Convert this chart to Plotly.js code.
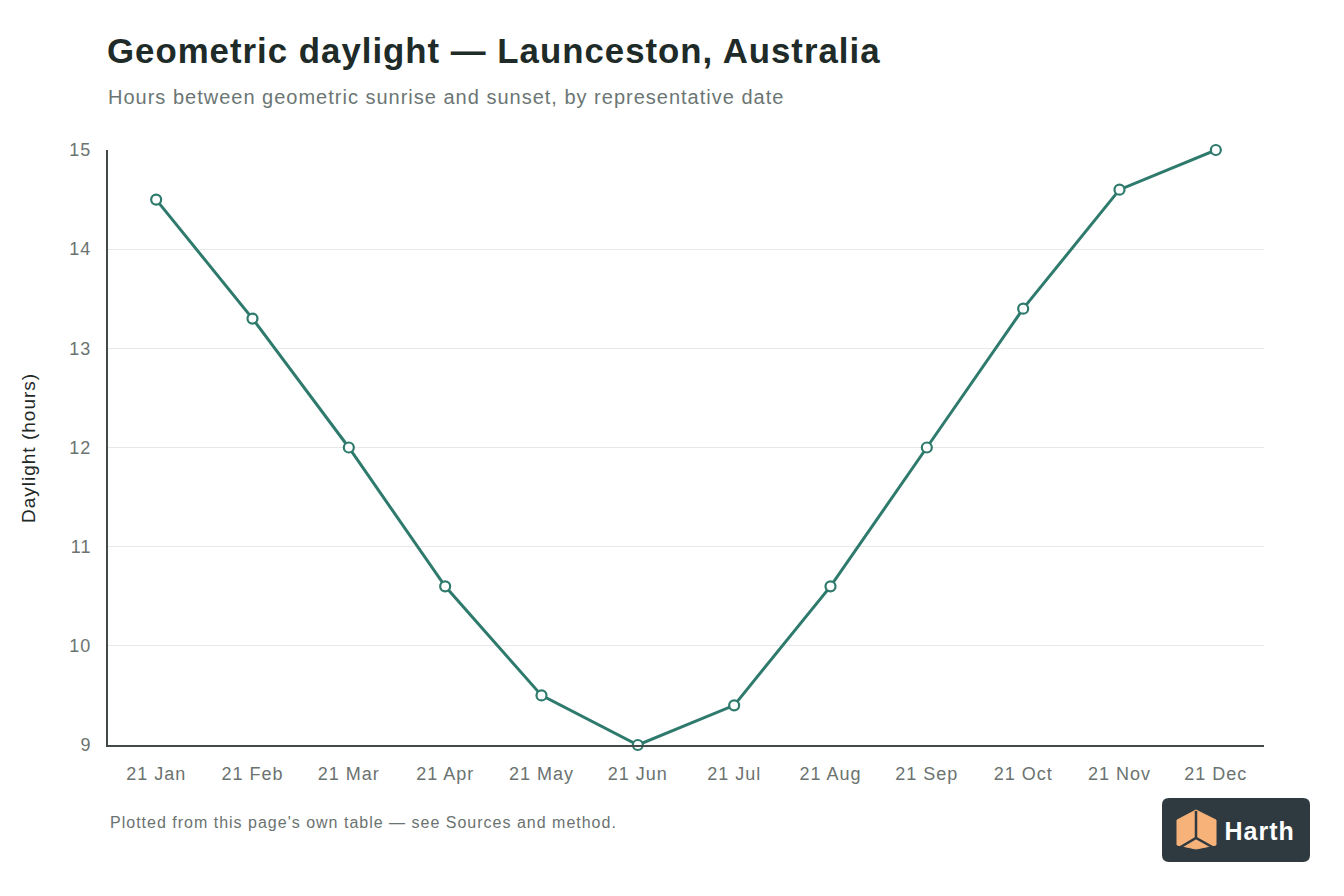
<!DOCTYPE html>
<html>
<head>
<meta charset="utf-8">
<script src="https://cdn.plot.ly/plotly-3.0.1.min.js"></script>
<style>
  html, body { margin: 0; padding: 0; background: #fff; }
  #chart { width: 1344px; height: 896px; }
  /* the reference type is set a little looser than Liberation Sans */
  #chart svg text { letter-spacing: 1px; }
</style>
</head>
<body>
<div id="chart"></div>
<script>
// representative dates and daylight hours
var dates = ['21 Jan', '21 Feb', '21 Mar', '21 Apr', '21 May', '21 Jun',
             '21 Jul', '21 Aug', '21 Sep', '21 Oct', '21 Nov', '21 Dec'];
var hours = [14.5, 13.3, 12.0, 10.6, 9.5, 9.0, 9.4, 10.6, 12.0, 13.4, 14.6, 15.0];
var yTicks = [9, 10, 11, 12, 13, 14, 15];

var FONT = '"Liberation Sans", Arial, Helvetica, sans-serif';
var TEAL = '#2e7a6c';

// plot area in pixels, used to place the decorations
var L = 108, R = 1264, T = 150, B = 745;
function px(x) { return (x - L) / (R - L); }
function py(y) { return (B - y) / (B - T); }

function roundRect(x0, y0, x1, y1, r) {
  return 'M' + px(x0 + r) + ',' + py(y0) +
    ' L' + px(x1 - r) + ',' + py(y0) +
    ' Q' + px(x1) + ',' + py(y0) + ' ' + px(x1) + ',' + py(y0 + r) +
    ' L' + px(x1) + ',' + py(y1 - r) +
    ' Q' + px(x1) + ',' + py(y1) + ' ' + px(x1 - r) + ',' + py(y1) +
    ' L' + px(x0 + r) + ',' + py(y1) +
    ' Q' + px(x0) + ',' + py(y1) + ' ' + px(x0) + ',' + py(y1 - r) +
    ' L' + px(x0) + ',' + py(y0 + r) +
    ' Q' + px(x0) + ',' + py(y0) + ' ' + px(x0 + r) + ',' + py(y0) + ' Z';
}
function poly(pts, close) {
  return pts.map(function (p, i) {
    return (i ? 'L' : 'M') + px(p[0]) + ',' + py(p[1]);
  }).join(' ') + (close ? ' Z' : '');
}

var trace = {
  x: dates,
  y: hours,
  type: 'scatter',
  mode: 'lines+markers',
  line: { color: TEAL, width: 3 },
  marker: { size: 10, color: '#ffffff', line: { color: TEAL, width: 2.2 } },
  cliponaxis: false,
  hoverinfo: 'x+y'
};

// left-aligned texts are placed by their centre, since the letter spacing
// is not part of plotly's own width measurement
var layout = {
  width: 1344,
  height: 896,
  margin: { l: L, r: 1344 - R, t: T, b: 896 - B },
  paper_bgcolor: '#ffffff',
  plot_bgcolor: '#ffffff',
  showlegend: false,
  font: { family: FONT, color: '#6b7370', size: 18 },
  xaxis: {
    type: 'category',
    range: [-0.5, dates.length - 0.5],
    showgrid: false,
    zeroline: false,
    showline: true,
    linecolor: '#444a48',
    linewidth: 2,
    ticks: 'outside',
    ticklen: 11,
    tickcolor: 'rgba(0,0,0,0)',
    tickfont: { family: FONT, size: 18, color: '#6b7370' },
    fixedrange: true
  },
  yaxis: {
    range: [9, 15],
    tickvals: yTicks,
    ticktext: yTicks.map(String),
    showgrid: true,
    gridcolor: '#e6e9e8',
    gridwidth: 1,
    zeroline: false,
    showline: true,
    linecolor: '#444a48',
    linewidth: 2,
    ticks: 'outside',
    ticklen: 11,
    tickcolor: 'rgba(0,0,0,0)',
    tickfont: { family: FONT, size: 18, color: '#6b7370' },
    fixedrange: true
  },
  annotations: [
    { text: 'Geometric daylight — Launceston, Australia', xref: 'paper', yref: 'paper',
      x: px(494), y: py(51), xanchor: 'center', yanchor: 'middle', showarrow: false,
      font: { family: FONT, size: 34.8, color: '#1e2b28', weight: 'bold' } },
    { text: 'Hours between geometric sunrise and sunset, by representative date', xref: 'paper', yref: 'paper',
      x: px(446), y: py(97), xanchor: 'center', yanchor: 'middle', showarrow: false,
      font: { family: FONT, size: 20, color: '#6b7674' } },
    { text: 'Daylight (hours)', xref: 'paper', yref: 'paper',
      x: px(28), y: py(448), xanchor: 'center', yanchor: 'middle', textangle: -90, showarrow: false,
      font: { family: FONT, size: 19, color: '#222826' } },
    { text: "Plotted from this page's own table — see Sources and method.", xref: 'paper', yref: 'paper',
      x: px(363), y: py(822), xanchor: 'center', yanchor: 'middle', showarrow: false,
      font: { family: FONT, size: 16, color: '#6b7370' } },
    { text: 'Harth', xref: 'paper', yref: 'paper',
      x: px(1259), y: py(831), xanchor: 'center', yanchor: 'middle', showarrow: false,
      font: { family: FONT, size: 25, color: '#ffffff', weight: 'bold' } }
  ],
  shapes: [
    { type: 'path', xref: 'paper', yref: 'paper', path: roundRect(1162, 798, 1310, 862, 7),
      fillcolor: '#2e3a40', line: { width: 0 }, layer: 'above' },
    { type: 'path', xref: 'paper', yref: 'paper',
      path: poly([[1196, 810], [1216, 820], [1216, 845], [1196, 849], [1177, 845], [1177, 820]], true),
      fillcolor: '#f7b27a', line: { color: '#f7b27a', width: 1 }, layer: 'above' },
    { type: 'path', xref: 'paper', yref: 'paper',
      path: poly([[1196, 811], [1196, 838]]) + ' ' + poly([[1179, 848], [1196, 838], [1214, 848]]),
      line: { color: '#2e3a40', width: 2.5 }, layer: 'above' }
  ]
};

Plotly.newPlot('chart', [trace], layout, { displayModeBar: false, staticPlot: true });
</script>
</body>
</html>
